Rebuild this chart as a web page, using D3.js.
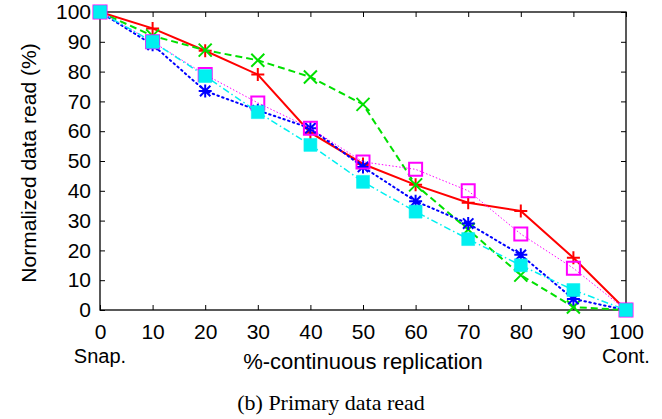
<!DOCTYPE html>
<html>
<head>
<meta charset="utf-8">
<script src="https://cdn.jsdelivr.net/npm/d3@7"></script>
<style>
  body { margin: 0; background: #fff; }
  text { font-family: "Liberation Sans", Arial, sans-serif; fill: #000; }
</style>
</head>
<body>
<div id="chart"></div>
<script>
// chart size
const width = 662;
const height = 419;

// x positions (% continuous replication)
const xValues = [0, 10, 20, 30, 40, 50, 60, 70, 80, 90, 100];
const xTicks = [0, 10, 20, 30, 40, 50, 60, 70, 80, 90, 100];
const yTicks = [0, 10, 20, 30, 40, 50, 60, 70, 80, 90, 100];

// normalized data read, one list per series
const redValues     = [100, 94.5, 87, 79, 59.5, 49, 42, 36, 33.2, 17.5, 0];
const greenValues   = [100, 92, 87.2, 83.8, 78.2, 69, 42, 27, 11.7, 1, 0];
const blueValues    = [100, 89, 73.5, 67, 61, 48, 36.5, 29, 18.5, 3.7, 0];
const magentaValues = [100, 90, 79, 69.5, 61, 49.7, 47.2, 40, 25.5, 14, 0];
const cyanValues    = [100, 90, 78.5, 66.4, 55.4, 43, 33, 23.8, 15, 6.7, 0];

// gnuplot style line types
const series = [
  { values: redValues,     color: "#ff0000", width: 2,   dash: null,        marker: "plus" },
  { values: greenValues,   color: "#00e000", width: 2,   dash: "7,4",       marker: "cross" },
  { values: blueValues,    color: "#0000ff", width: 2,   dash: "1.5,3.5",   marker: "star" },
  { values: magentaValues, color: "#ff00ff", width: 1,   dash: "1.5,2",     marker: "box" },
  { values: cyanValues,    color: "#00f0f0", width: 1.5, dash: "7,3,1.5,3", marker: "fbox" }
];

const margin = { top: 12, right: 36, bottom: 109, left: 100 };

const svg = d3.select("#chart")
  .append("svg")
    .attr("width", width)
    .attr("height", height);

svg.append("rect")
  .attr("width", width)
  .attr("height", height)
  .attr("fill", "#fff");

const x = d3.scaleLinear()
  .domain([0, 100])
  .range([margin.left, width - margin.right]);

const y = d3.scaleLinear()
  .domain([0, 100])
  .range([height - margin.bottom, margin.top]);

// axes with inward ticks on all four sides
svg.append("g")
  .attr("transform", `translate(0,${y(0)})`)
  .call(d3.axisBottom(x).tickValues(xTicks).tickSizeInner(-5).tickSizeOuter(0).tickPadding(14));

svg.append("g")
  .attr("transform", `translate(${x(0)},0)`)
  .call(d3.axisLeft(y).tickValues(yTicks).tickSizeInner(-5).tickSizeOuter(0).tickPadding(9));

svg.append("g")
  .attr("transform", `translate(0,${y(100)})`)
  .call(d3.axisTop(x).tickValues(xTicks).tickSizeInner(-5).tickSizeOuter(0).tickFormat(""));

svg.append("g")
  .attr("transform", `translate(${x(100)},0)`)
  .call(d3.axisRight(y).tickValues(yTicks).tickSizeInner(-5).tickSizeOuter(0).tickFormat(""));

svg.selectAll(".domain").remove();
svg.selectAll(".tick line").attr("stroke", "#000").attr("stroke-width", 1);
svg.selectAll(".tick text")
  .style("font-family", "'Liberation Sans', Arial, sans-serif")
  .style("font-size", "21px")
  .attr("fill", "#000");

// frame
svg.append("rect")
  .attr("x", x(0))
  .attr("y", y(100))
  .attr("width", x(100) - x(0))
  .attr("height", y(0) - y(100))
  .attr("fill", "none")
  .attr("stroke", "#000")
  .attr("stroke-width", 1.3);

// extra labels under the ends
svg.append("text")
  .attr("x", x(0))
  .attr("y", 363)
  .attr("text-anchor", "middle")
  .style("font-size", "20px")
  .text("Snap.");

svg.append("text")
  .attr("x", x(100))
  .attr("y", 363)
  .attr("text-anchor", "middle")
  .style("font-size", "20px")
  .text("Cont.");

// axis titles
svg.append("text")
  .attr("x", (x(0) + x(100)) / 2)
  .attr("y", 369)
  .attr("text-anchor", "middle")
  .style("font-size", "22px")
  .text("%-continuous replication");

svg.append("text")
  .attr("transform", `translate(36,${(y(0) + y(100)) / 2 + 2}) rotate(-90)`)
  .attr("text-anchor", "middle")
  .style("font-size", "21px")
  .text("Normalized data read (%)");

// caption
svg.append("text")
  .attr("x", 331)
  .attr("y", 410)
  .attr("text-anchor", "middle")
  .style("font-family", "'Liberation Serif', 'Times New Roman', serif")
  .style("font-size", "22px")
  .text("(b) Primary data read");

// marker shapes
const s = 6.5;
function markerPath(type) {
  if (type === "plus") return `M${-s},0H${s}M0,${-s}V${s}`;
  if (type === "cross") return `M${-s},${-s}L${s},${s}M${-s},${s}L${s},${-s}`;
  if (type === "star") return `M${-s},0H${s}M0,${-s}V${s}M${-s * 0.8},${-s * 0.8}L${s * 0.8},${s * 0.8}M${-s * 0.8},${s * 0.8}L${s * 0.8},${-s * 0.8}`;
  return `M${-s},${-s}H${s}V${s}H${-s}Z`;
}

const line = d3.line()
  .x((d, i) => x(xValues[i]))
  .y(d => y(d));

const plot = svg.append("g");

series.forEach(function(sr) {
  plot.append("path")
    .datum(sr.values)
    .attr("d", line)
    .attr("fill", "none")
    .attr("stroke", sr.color)
    .attr("stroke-width", sr.width)
    .attr("stroke-dasharray", sr.dash)
    .attr("stroke-linecap", sr.marker === "star" ? "round" : "butt");

  plot.append("g")
    .selectAll("path")
    .data(sr.values)
    .join("path")
      .attr("transform", (d, i) => `translate(${x(xValues[i])},${y(d)})`)
      .attr("d", markerPath(sr.marker))
      .attr("fill", sr.marker === "fbox" ? sr.color : "none")
      .attr("stroke", sr.color)
      .attr("stroke-width", sr.marker === "fbox" ? 0.5 : 2);
});
</script>
</body>
</html>
